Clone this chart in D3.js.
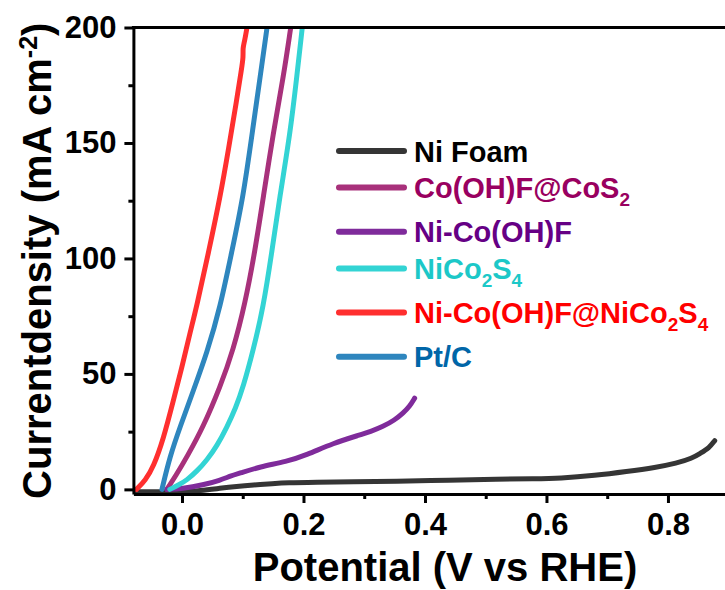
<!DOCTYPE html>
<html>
<head>
<meta charset="utf-8">
<script src="https://cdn.jsdelivr.net/npm/d3@7/dist/d3.min.js"></script>
<style>
  html, body { margin: 0; padding: 0; background: #fff; }
  svg { display: block; }
  text { font-family: "Liberation Sans", Arial, sans-serif; font-weight: bold; }
</style>
</head>
<body>
<svg id="chart" width="725" height="590"></svg>
<script>
// HER polarization curves: potential (V vs RHE) vs current density (mA cm^-2)
const potentialTicks = [0.0, 0.2, 0.4, 0.6, 0.8];
const potentialMinorTicks = [0.1, 0.3, 0.5, 0.7];
const currentTicks = [0, 50, 100, 150, 200];
const currentMinorTicks = [25, 75, 125, 175];

const seriesNames = ["Ni Foam", "Co(OH)F@CoS2", "Ni-Co(OH)F", "NiCo2S4", "Ni-Co(OH)F@NiCo2S4", "Pt/C"];

const niFoam = [[-0.075, -1], [0.0, -1], [0.03, -0.6], [0.063, 0.5], [0.09, 1.3], [0.117, 1.9], [0.15, 2.5],
  [0.172, 2.9], [0.22, 3.1], [0.282, 3.3], [0.35, 3.5], [0.441, 4.0], [0.52, 4.4], [0.58, 4.6], [0.622, 4.8],
  [0.68, 6.0], [0.732, 7.7], [0.78, 9.5], [0.814, 11.3], [0.84, 13.5], [0.853, 15.6], [0.868, 18], [0.877, 21.1]];
const coOHFCoS2 = [[-0.025, 0], [-0.01, 6], [0.008, 14], [0.035, 27], [0.063, 44.5], [0.084, 60], [0.104, 80.6],
  [0.12, 103], [0.134, 126.8], [0.15, 154], [0.167, 178.7], [0.179, 200]];
const niCoOHF = [[-0.025, 0], [0.0, 0.3], [0.035, 1.9], [0.063, 4], [0.08, 5.8], [0.095, 7], [0.128, 9.8],
  [0.172, 12], [0.205, 14.9], [0.249, 20], [0.293, 23.6], [0.31, 25], [0.331, 27.2], [0.35, 30], [0.364, 33],
  [0.375, 36], [0.383, 39.5]];
const niCo2S4 = [[-0.02, 0], [-0.005, 2], [0.008, 4], [0.025, 8], [0.041, 12.7], [0.058, 19], [0.074, 27],
  [0.088, 35], [0.101, 44.5], [0.117, 60], [0.134, 79], [0.148, 103], [0.161, 126.8], [0.178, 154],
  [0.189, 178.7], [0.198, 200]];
const niCoOHFNiCo2S4 = [[-0.075, 0], [-0.06, 4], [-0.047, 9.8], [-0.031, 21.4], [-0.014, 38.7], [0.0, 53],
  [0.013, 67.6], [0.024, 79], [0.044, 103], [0.063, 126.8], [0.077, 148], [0.09, 168.6], [0.098, 182],
  [0.101, 187.4], [0.1, 191], [0.103, 194], [0.107, 200]];
const ptC = [[-0.033, 0], [-0.02, 14.2], [-0.003, 27.2], [0.019, 43], [0.041, 59], [0.063, 79], [0.082, 103],
  [0.101, 126.8], [0.117, 157], [0.131, 183], [0.14, 200]];

const seriesValues = [niFoam, coOHFCoS2, niCoOHF, niCo2S4, niCoOHFNiCo2S4, ptC];
const lineColors = ["#353535", "#A8317B", "#7F2B9B", "#33D4D4", "#FF2F2F", "#2E86BE"];
const textColors = ["#000000", "#990060", "#660085", "#1CC8C8", "#FF0000", "#0066A8"];

const svg = d3.select("#chart");

const x = d3.scaleLinear().domain([-0.08, 0.9]).range([133.4, 728.7]);
const y = d3.scaleLinear().domain([-2, 200]).range([494, 27.5]);

// clip so curves stop at the top frame
svg.append("defs").append("clipPath").attr("id", "plotClip")
  .append("rect").attr("x", x.range()[0]).attr("y", y(200))
  .attr("width", x.range()[1] - x.range()[0]).attr("height", 590 - y(200));

const line = d3.line()
  .x(d => x(d[0])).y(d => y(d[1]))
  .curve(d3.curveBasis);

const curves = svg.append("g").attr("clip-path", "url(#plotClip)");
seriesValues.forEach((vals, i) => {
  curves.append("path")
    .datum(vals)
    .attr("d", line)
    .attr("fill", "none")
    .attr("stroke", lineColors[i])
    .attr("stroke-width", 5)
    .attr("stroke-linecap", "round")
    .attr("stroke-linejoin", "round");
});

// axes
const axisStyle = g => {
  g.selectAll("path.domain").attr("stroke", "#000").attr("stroke-width", 3);
  g.selectAll(".tick line").attr("stroke", "#000").attr("stroke-width", 3);
  g.selectAll(".tick text").attr("fill", "#000").style("font-size", "31px")
    .style("font-family", "'Liberation Sans', Arial, sans-serif").style("font-weight", "bold");
};

svg.append("g").attr("transform", `translate(0,${y.range()[0]})`)
  .call(d3.axisBottom(x).tickValues(potentialTicks).tickFormat(d3.format(".1f"))
    .tickSize(9).tickSizeOuter(0).tickPadding(10))
  .call(axisStyle);
svg.append("g").attr("transform", `translate(0,${y.range()[0]})`)
  .call(d3.axisBottom(x).tickValues(potentialMinorTicks).tickFormat("").tickSize(5).tickSizeOuter(0))
  .call(axisStyle)
  .call(g => g.select("path.domain").remove());

svg.append("g").attr("transform", `translate(${x.range()[0]},0)`)
  .call(d3.axisLeft(y).tickValues(currentTicks).tickSize(9).tickSizeOuter(0).tickPadding(8))
  .call(axisStyle);
svg.append("g").attr("transform", `translate(${x.range()[0]},0)`)
  .call(d3.axisLeft(y).tickValues(currentMinorTicks).tickFormat("").tickSize(5).tickSizeOuter(0))
  .call(axisStyle)
  .call(g => g.select("path.domain").remove());

// top frame
svg.append("line")
  .attr("x1", x.range()[0] - 1.5).attr("x2", x.range()[1])
  .attr("y1", y(200)).attr("y2", y(200))
  .attr("stroke", "#000").attr("stroke-width", 3);

// axis titles
svg.append("text")
  .attr("x", 445).attr("y", 581)
  .attr("text-anchor", "middle")
  .style("font-size", "40px")
  .text("Potential (V vs RHE)");

const yTitle = svg.append("text")
  .attr("transform", `translate(51,${(y.range()[0] + y.range()[1]) / 2}) rotate(-90)`)
  .attr("text-anchor", "middle")
  .style("font-size", "40px");
yTitle.append("tspan").text("Currentdensity (mA cm");
yTitle.append("tspan").attr("dy", -14).style("font-size", "25px").text("-2");
yTitle.append("tspan").attr("dy", 14).text(")");

// legend
const legend = svg.append("g");
const legendParts = [
  [["Ni Foam", false]],
  [["Co(OH)F@CoS", false], ["2", true]],
  [["Ni-Co(OH)F", false]],
  [["NiCo", false], ["2", true], ["S", false], ["4", true]],
  [["Ni-Co(OH)F@NiCo", false], ["2", true], ["S", false], ["4", true]],
  [["Pt/C", false]]
];
let rowY = 151;
legendParts.forEach((parts, i) => {
  legend.append("line")
    .attr("x1", 339).attr("x2", 404)
    .attr("y1", rowY).attr("y2", rowY)
    .attr("stroke", lineColors[i]).attr("stroke-width", 6)
    .attr("stroke-linecap", "round");
  const t = legend.append("text")
    .attr("x", 414).attr("y", rowY + 10.5)
    .attr("fill", textColors[i])
    .style("font-size", "29px");
  let shifted = false;
  parts.forEach(([str, sub]) => {
    const ts = t.append("tspan").text(str);
    if (sub && !shifted) { ts.attr("dy", 8).style("font-size", "19px"); shifted = true; }
    else if (sub) { ts.style("font-size", "19px"); }
    else if (shifted) { ts.attr("dy", -8); shifted = false; }
  });
  const hasSub = parts.some(p => p[1]);
  rowY += hasSub ? 44.2 : 36.6;
});
</script>
</body>
</html>
